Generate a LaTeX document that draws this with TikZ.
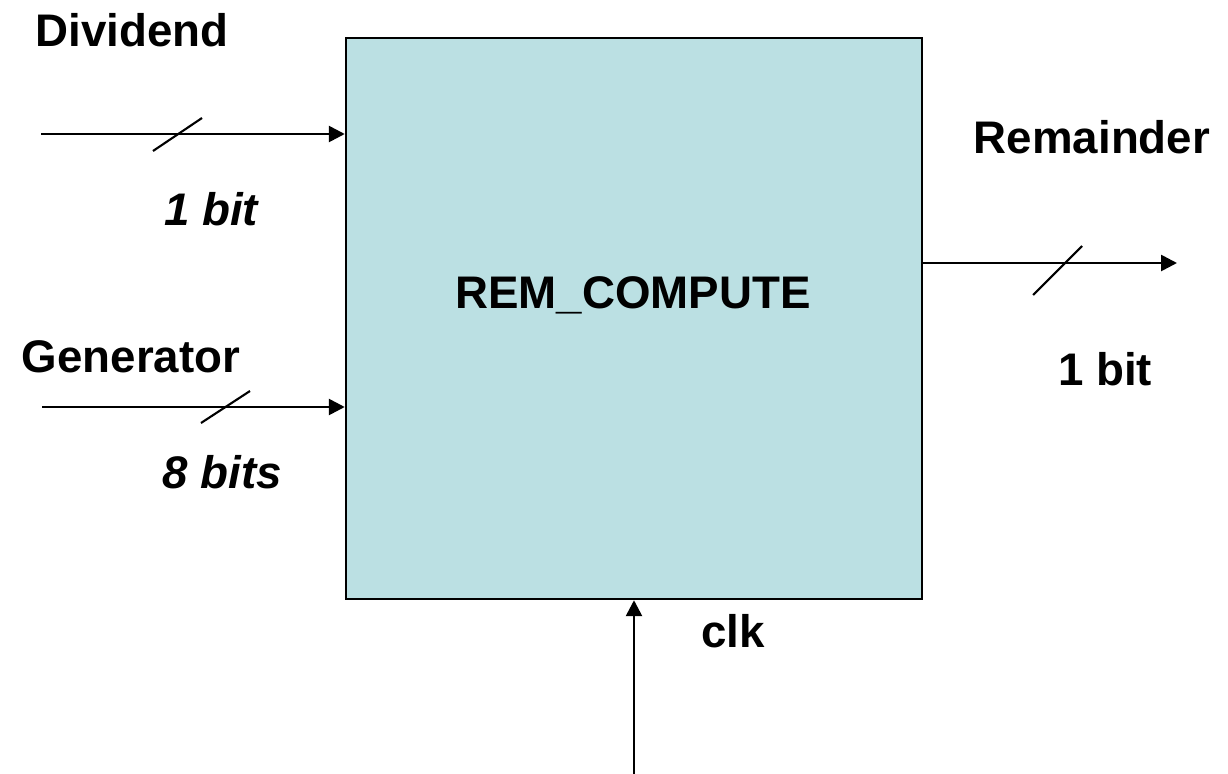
\documentclass[tikz,border=0pt]{standalone}
\usepackage{fontspec}
\setmainfont{Liberation Sans}
\usepackage{tikz}
\usetikzlibrary{arrows.meta, positioning, calc}
\definecolor{boxfill}{HTML}{BBE0E3}

\begin{document}
\begin{tikzpicture}[
  x=0.02cm, y=-0.02cm,
  block/.style={draw, line width=1.4pt, fill=boxfill, minimum width=576*0.02cm, minimum height=561*0.02cm, inner sep=0pt},
  sig/.style={-{Triangle[length=9pt, width=9pt]}, line width=1.5pt},
  bus/.style={line width=1.2pt},
  lbl/.style={font=\fontsize{26}{30}\selectfont\bfseries},
  wid/.style={font=\fontsize{26}{30}\selectfont\bfseries\itshape}
]
  \useasboundingbox (0,0) rectangle (1228,774);

  % Block
  \node[block] (rem) at (634,318.5) {};
  \node[lbl] (name) at (633,295) {REM\_COMPUTE};

  % Inputs
  \coordinate (divin) at (41,134);
  \coordinate (genin) at (42,407);
  \coordinate (clkin) at (634,774);
  \coordinate (remout) at (1177,263);

  \draw[sig] (divin) -- (divin -| rem.west);
  \draw[sig] (genin) -- (genin -| rem.west);
  \draw[sig] (clkin) -- (rem.south);
  \draw[sig] (remout -| rem.east) -- (remout);

  % Bus slashes
  \draw[bus] (153,151) -- (202,118);
  \draw[bus] (201,423) -- (250,391);
  \draw[bus] (1033,295) -- (1082,246);

  % Labels
  \node[lbl] (dividend) at (132,30) {Dividend};
  \node[wid] (divw) at (211,209) {1 bit};
  \node[lbl] (generator) at (131,357) {Generator};
  \node[wid] (genw) at (222,472) {8 bits};
  \node[lbl] (remainder) at (1092,137) {Remainder};
  \node[lbl] (remw) at (1105,369) {1 bit};
  \node[lbl] (clk) at (733,631) {clk};
\end{tikzpicture}
\end{document}
